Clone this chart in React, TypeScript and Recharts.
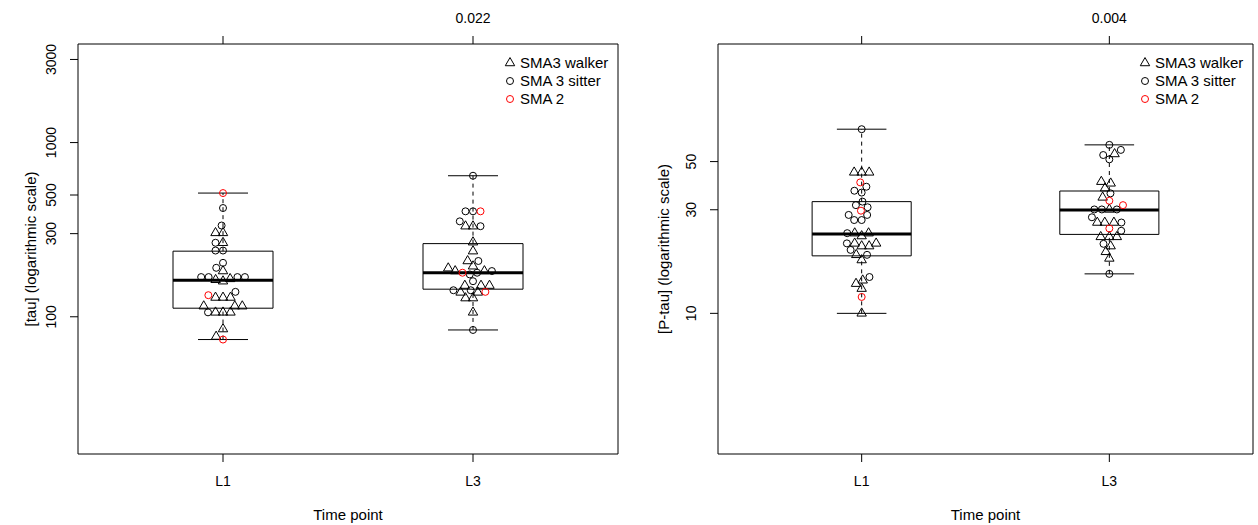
// Beeswarm boxplots — tau / P-tau at two time points (log scale)

import React from 'react';
import {
  ComposedChart, Scatter, XAxis, YAxis, ReferenceArea, ReferenceLine, Label,
} from 'recharts';

// ── data ──

const TIME_POINTS = ['L1', 'L3'];
const X_POS = [1, 2];
const X_DOMAIN: [number, number] = [0.42, 2.58];

const LEGEND_ITEMS = ['SMA3 walker', 'SMA 3 sitter', 'SMA 2'];

// [tau]
const TAU_TICKS = [100, 300, 500, 1000, 3000];
const TAU_DOMAIN: [number, number] = [16.3, 3680];
const TAU_P = '0.022';
// lower whisker, Q1, median, Q3, upper whisker
const TAU_BOX_L1 = [74, 112, 162, 238, 513];
const TAU_BOX_L3 = [84, 144, 179, 263, 645];
const TAU_WALKER_L1 = [303, 303, 266, 183, 165, 163, 160, 129, 129, 129, 115, 115, 115, 106, 106, 106, 85, 77];
const TAU_SITTER_L1 = [421, 334, 266, 240, 240, 204, 191, 169, 169, 169, 169, 139, 106];
const TAU_SMA2_L1 = [513, 133, 74];
const TAU_WALKER_L3 = [331, 331, 268, 238, 209, 195, 190, 183, 183, 151, 151, 151, 138, 138, 128, 128, 106];
const TAU_SITTER_L3 = [645, 403, 403, 353, 331, 209, 183, 179, 175, 160, 142, 142, 84];
const TAU_SMA2_L3 = [403, 179, 139];

// [P-tau]
const PTAU_TICKS = [10, 30, 50];
const PTAU_DOMAIN: [number, number] = [2.25, 174];
const PTAU_P = '0.004';
const PTAU_BOX_L1 = [10, 18.4, 23.2, 32.7, 70.5];
const PTAU_BOX_L3 = [15.2, 23.1, 29.9, 36.6, 59.7];
const PTAU_WALKER_L1 = [44.6, 44.6, 44.6, 23.4, 23.4, 22.7, 21, 21, 20.4, 20.4, 18.6, 17.6, 14.2, 13.7, 13.0, 10];
const PTAU_SITTER_L1 = [70.5, 38.3, 36.7, 36.0, 32.7, 31.5, 30.8, 28.4, 28.4, 26.9, 26.9, 23.4, 21.0, 19.6, 18.6, 14.7];
const PTAU_SMA2_L1 = [40.1, 29.7, 11.9];
const PTAU_WALKER_L3 = [54.2, 40.4, 39.7, 37.7, 34.2, 30.1, 26.2, 26.2, 26.2, 22.5, 22.5, 22.5, 20.4, 19.2, 17.9];
const PTAU_SITTER_L3 = [59.7, 56.6, 53.6, 51.2, 35.7, 30.1, 30.1, 30.1, 27.7, 26.2, 24.0, 20.9, 15.2];
const PTAU_SMA2_L3 = [33.0, 31.5, 24.6];

// ── layout ──

const FONT = '"Liberation Sans", Arial, Helvetica, sans-serif';
const CHART_H = 525;
const PLOT_TOP = 44;
const PLOT_BOTTOM = 454;
const Y_AXIS_W = 40;
const TOP_AXIS_H = 30;
const BOTTOM_AXIS_H = 40;
const SWARM_D = 7.5; // px spacing between point centres
const R = 3.5; // R's pch radius in px

// ── beeswarm (swarm method, ascending priority) ──

function swarmOffsets(ys: number[]): number[] {
  const order = ys.map((_, i) => i).sort((a, b) => ys[a] - ys[b]);
  const px: number[] = [];
  const py: number[] = [];
  const out = new Array(ys.length).fill(0);
  const d2 = SWARM_D * SWARM_D;
  for (const i of order) {
    const y = ys[i];
    const plus: number[] = [];
    const minus: number[] = [];
    for (let j = 0; j < py.length; j++) {
      const dy = Math.abs(py[j] - y);
      if (dy < SWARM_D) {
        const dx = Math.sqrt(d2 - dy * dy);
        plus.push(px[j] + dx);
        minus.push(px[j] - dx);
      }
    }
    const cands = [0, ...plus, ...minus];
    let best = Infinity;
    for (const c of cands) {
      if (Math.abs(c) >= Math.abs(best)) continue;
      let ok = true;
      for (let j = 0; j < py.length; j++) {
        const ddx = px[j] - c;
        const ddy = py[j] - y;
        if (ddx * ddx + ddy * ddy < d2 - 1e-6) { ok = false; break; }
      }
      if (ok) best = c;
    }
    out[i] = best;
    px.push(best);
    py.push(y);
  }
  return out;
}

// ── point shapes ──

function TriangleDot(props: any) {
  const { cx, cy } = props;
  if (cx == null || cy == null) return null;
  const r = 1.555 * R;
  const yc = 0.778 * R;
  const xc = 1.347 * R;
  return (
    <path
      d={`M${cx},${cy - r}L${cx + xc},${cy + yc}L${cx - xc},${cy + yc}Z`}
      fill="none"
      stroke="#000"
      strokeWidth={1}
    />
  );
}

function CircleDot(props: any) {
  const { cx, cy, color } = props;
  if (cx == null || cy == null) return null;
  return <circle cx={cx} cy={cy} r={R} fill="none" stroke={color} strokeWidth={1} />;
}

function YTick(props: any) {
  const { x, y, payload } = props;
  return (
    <text
      x={x}
      y={y}
      transform={`rotate(-90 ${x} ${y})`}
      textAnchor="middle"
      fontSize={14}
      fontFamily={FONT}
      fill="#000"
    >
      {payload.value}
    </text>
  );
}

// ── panel ──

interface PanelProps {
  readonly left: number;
  readonly width: number;
  readonly marginRight: number;
  readonly yDomain: [number, number];
  readonly yTicks: number[];
  readonly yTitle: string;
  readonly yTitleOffset: number;
  readonly pLabel: string;
  readonly boxes: number[][];
  readonly walker: number[][];
  readonly sitter: number[][];
  readonly sma2: number[][];
}

function Panel(p: PanelProps) {
  const plotLeft = Y_AXIS_W + 38;
  const plotW = p.width - plotLeft - p.marginRight;
  const plotH = PLOT_BOTTOM - PLOT_TOP;
  const pxPerUnit = plotW / (X_DOMAIN[1] - X_DOMAIN[0]);
  const llo = Math.log10(p.yDomain[0]);
  const span = Math.log10(p.yDomain[1]) - llo;
  const toPx = (v: number) => ((Math.log10(v) - llo) / span) * plotH;

  const walkerPts: { x: number; y: number }[] = [];
  const sitterPts: { x: number; y: number }[] = [];
  const sma2Pts: { x: number; y: number }[] = [];
  X_POS.forEach((pos, k) => {
    const items = [
      ...p.walker[k].map((v) => ({ v, list: walkerPts })),
      ...p.sitter[k].map((v) => ({ v, list: sitterPts })),
      ...p.sma2[k].map((v) => ({ v, list: sma2Pts })),
    ];
    const offs = swarmOffsets(items.map((it) => toPx(it.v)));
    items.forEach((it, i) => it.list.push({ x: pos - offs[i] / pxPerUnit, y: it.v }));
  });

  const frameRight = plotLeft + plotW;
  const legendX = frameRight - 108;

  return (
    <div style={{ position: 'absolute', left: p.left, top: 0, width: p.width, height: CHART_H }}>
      <ComposedChart
        width={p.width}
        height={CHART_H}
        margin={{
          top: PLOT_TOP - TOP_AXIS_H,
          right: p.marginRight,
          bottom: CHART_H - PLOT_BOTTOM - BOTTOM_AXIS_H,
          left: 38,
        }}
      >
        <XAxis
          dataKey="x"
          type="number"
          domain={X_DOMAIN}
          allowDataOverflow
          ticks={X_POS}
          tickFormatter={(v: number) => TIME_POINTS[X_POS.indexOf(v)] ?? ''}
          height={BOTTOM_AXIS_H}
          tickSize={8}
          tickMargin={14}
          axisLine={false}
          tickLine={{ stroke: '#000' }}
          tick={{ fontSize: 14, fill: '#000', fontFamily: FONT }}
        >
          <Label
            content={({ viewBox }: any) => (
              <text
                x={viewBox.x + viewBox.width / 2}
                y={viewBox.y + 66}
                textAnchor="middle"
                fontSize={15}
                fontFamily={FONT}
                fill="#000"
              >
                Time point
              </text>
            )}
          />
        </XAxis>
        <XAxis
          xAxisId="top"
          orientation="top"
          dataKey="x"
          type="number"
          domain={X_DOMAIN}
          allowDataOverflow
          ticks={X_POS}
          tickFormatter={(v: number) => (v === 2 ? p.pLabel : '')}
          height={TOP_AXIS_H}
          tickSize={8}
          tickMargin={13}
          axisLine={false}
          tickLine={{ stroke: '#000' }}
          tick={{ fontSize: 14, fill: '#000', fontFamily: FONT }}
        />
        <YAxis
          dataKey="y"
          type="number"
          scale="log"
          domain={p.yDomain}
          allowDataOverflow
          ticks={p.yTicks}
          width={Y_AXIS_W}
          tickSize={8}
          tickMargin={14}
          axisLine={false}
          tickLine={{ stroke: '#000' }}
          tick={<YTick />}
        >
          <Label
            content={({ viewBox }: any) => {
              const x = viewBox.x + viewBox.width - p.yTitleOffset;
              const y = PLOT_TOP + (PLOT_BOTTOM - PLOT_TOP) / 2;
              return (
                <text
                  x={x}
                  y={y}
                  transform={`rotate(-90 ${x} ${y})`}
                  textAnchor="middle"
                  dominantBaseline="central"
                  fontSize={15}
                  fontFamily={FONT}
                  fill="#000"
                >
                  {p.yTitle}
                </text>
              );
            }}
          />
        </YAxis>

        {/* frame */}
        <ReferenceArea
          x1={X_DOMAIN[0]}
          x2={X_DOMAIN[1]}
          y1={p.yDomain[0]}
          y2={p.yDomain[1]}
          fill="none"
          fillOpacity={0}
          stroke="#000"
          strokeWidth={1}
          strokeOpacity={1}
        />

        {/* boxes */}
        {X_POS.map((pos, k) => {
          const [lo, q1, med, q3, hi] = p.boxes[k];
          return [
            <ReferenceLine key={`wu${k}`} segment={[{ x: pos, y: q3 }, { x: pos, y: hi }]} stroke="#000" strokeDasharray="4 4" />,
            <ReferenceLine key={`wl${k}`} segment={[{ x: pos, y: lo }, { x: pos, y: q1 }]} stroke="#000" strokeDasharray="4 4" />,
            <ReferenceLine key={`cu${k}`} segment={[{ x: pos - 0.1, y: hi }, { x: pos + 0.1, y: hi }]} stroke="#000" />,
            <ReferenceLine key={`cl${k}`} segment={[{ x: pos - 0.1, y: lo }, { x: pos + 0.1, y: lo }]} stroke="#000" />,
            <ReferenceArea
              key={`b${k}`}
              x1={pos - 0.2}
              x2={pos + 0.2}
              y1={q1}
              y2={q3}
              fill="none"
              fillOpacity={0}
              stroke="#000"
              strokeOpacity={1}
            />,
            <ReferenceLine key={`m${k}`} segment={[{ x: pos - 0.2, y: med }, { x: pos + 0.2, y: med }]} stroke="#000" strokeWidth={3} />,
          ];
        })}

        <Scatter data={walkerPts} dataKey="y" isAnimationActive={false} shape={(s: any) => <TriangleDot {...s} />} />
        <Scatter data={sitterPts} dataKey="y" isAnimationActive={false} shape={(s: any) => <CircleDot {...s} color="#000" />} />
        <Scatter data={sma2Pts} dataKey="y" isAnimationActive={false} shape={(s: any) => <CircleDot {...s} color="#ff0000" />} />
      </ComposedChart>

      {/* legend */}
      <svg
        width={130}
        height={60}
        style={{ position: 'absolute', left: legendX - 8, top: 52, overflow: 'visible' }}
      >
        {LEGEND_ITEMS.map((name, i) => {
          const cy = 11 + i * 18;
          return (
            <g key={name}>
              {i === 0 ? (
                <TriangleDot cx={8} cy={cy} />
              ) : (
                <CircleDot cx={8} cy={cy} color={i === 2 ? '#ff0000' : '#000'} />
              )}
              <text x={18} y={cy + 5} fontSize={15} fontFamily={FONT} fill="#000">
                {name}
              </text>
            </g>
          );
        })}
      </svg>
    </div>
  );
}

export default function App() {
  return (
    <div style={{ position: 'absolute', left: 0, top: 0, width: 1258, height: CHART_H, background: '#fff' }}>
      <Panel
        left={0}
        width={640}
        marginRight={22}
        yDomain={TAU_DOMAIN}
        yTicks={TAU_TICKS}
        yTitle="[tau] (logarithmic scale)"
        yTitleOffset={48}
        pLabel={TAU_P}
        boxes={[TAU_BOX_L1, TAU_BOX_L3]}
        walker={[TAU_WALKER_L1, TAU_WALKER_L3]}
        sitter={[TAU_SITTER_L1, TAU_SITTER_L3]}
        sma2={[TAU_SMA2_L1, TAU_SMA2_L3]}
      />
      <Panel
        left={640}
        width={618}
        marginRight={5}
        yDomain={PTAU_DOMAIN}
        yTicks={PTAU_TICKS}
        yTitle="[P-tau] (logarithmic scale)"
        yTitleOffset={55}
        pLabel={PTAU_P}
        boxes={[PTAU_BOX_L1, PTAU_BOX_L3]}
        walker={[PTAU_WALKER_L1, PTAU_WALKER_L3]}
        sitter={[PTAU_SITTER_L1, PTAU_SITTER_L3]}
        sma2={[PTAU_SMA2_L1, PTAU_SMA2_L3]}
      />
    </div>
  );
}
